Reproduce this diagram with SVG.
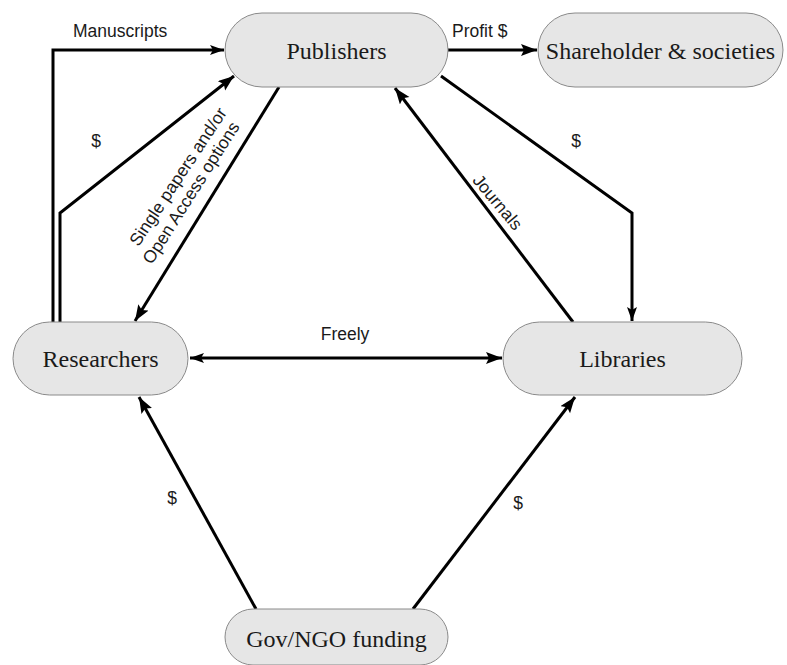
<svg xmlns="http://www.w3.org/2000/svg" width="787" height="665" viewBox="0 0 787 665">
<defs>
<marker id="ah" markerUnits="userSpaceOnUse" markerWidth="18" markerHeight="14" refX="16" refY="6" orient="auto">
<path d="M0,0 L16,6 L0,12 L3,6 z" fill="#000"/>
</marker>
<marker id="ahs" markerUnits="userSpaceOnUse" markerWidth="16" markerHeight="12" refX="14" refY="5" orient="auto">
<path d="M0,0 L14,5 L0,10 L3,5 z" fill="#000"/>
</marker>
<marker id="ahst" markerUnits="userSpaceOnUse" markerWidth="16" markerHeight="12" refX="0" refY="5" orient="auto">
<path d="M14,0 L0,5 L14,10 L11,5 z" fill="#000"/>
</marker>
</defs>
<style>
.node rect{fill:#e6e6e6;stroke:#8a8a8a;stroke-width:1}
.node text{font-family:"Liberation Serif","Times New Roman",serif;font-size:24px;fill:#1a1a1a;text-anchor:middle}
.conn path{fill:none;stroke:#000;stroke-width:3}
.lbl{font-family:"Liberation Sans",Arial,sans-serif;font-size:17.5px;fill:#1a1a1a}
.c{text-anchor:middle}
</style>
<rect width="787" height="665" fill="#fff"/>
<g id="connectors" class="conn">
<path d="M53,322 L53,50 L224,50" stroke-width="2.5" marker-end="url(#ahs)"/>
<path d="M60,322 L60,213 L234,76" marker-end="url(#ah)"/>
<path d="M279,87 L135,321" marker-end="url(#ah)"/>
<path d="M573,322 L395,88" marker-end="url(#ah)"/>
<path d="M441,76 L632,213 L632,321" marker-end="url(#ahs)"/>
<path d="M190,358 L502,358" marker-start="url(#ahst)" marker-end="url(#ah)"/>
<path d="M256,609 L139,397" marker-end="url(#ah)"/>
<path d="M413,609 L575,397" marker-end="url(#ah)"/>
<path d="M448,50 L537,50" stroke-width="3.5" marker-end="url(#ah)"/>
</g>
<g id="labels">
<text class="lbl" x="73" y="37">Manuscripts</text>
<text class="lbl" x="452" y="37">Profit $</text>
<text class="lbl c" x="96" y="147">$</text>
<text class="lbl c" x="576" y="147">$</text>
<text class="lbl c" x="172" y="504">$</text>
<text class="lbl c" x="518" y="509">$</text>
<text class="lbl c" x="345" y="340">Freely</text>
<text class="lbl c" transform="translate(183,180) rotate(-56.5)">Single papers and/or</text>
<text class="lbl c" transform="translate(196,196) rotate(-57.5)">Open Access options</text>
<text class="lbl c" transform="translate(493,206) rotate(50)">Journals</text>
</g>
<g id="publishers" class="node">
<rect x="225" y="13" width="223" height="74" rx="37"/>
<text x="336.5" y="59">Publishers</text>
</g>
<g id="shareholders" class="node">
<rect x="538" y="13" width="245" height="74" rx="37"/>
<text x="660.5" y="59">Shareholder &amp; societies</text>
</g>
<g id="researchers" class="node">
<rect x="13" y="322" width="175" height="73" rx="36.5"/>
<text x="100.5" y="367">Researchers</text>
</g>
<g id="libraries" class="node">
<rect x="503" y="322" width="239" height="73" rx="36.5"/>
<text x="622.5" y="367">Libraries</text>
</g>
<g id="funding" class="node">
<rect x="225" y="609" width="223" height="56" rx="28"/>
<text x="336.5" y="647">Gov/NGO funding</text>
</g>
</svg>
